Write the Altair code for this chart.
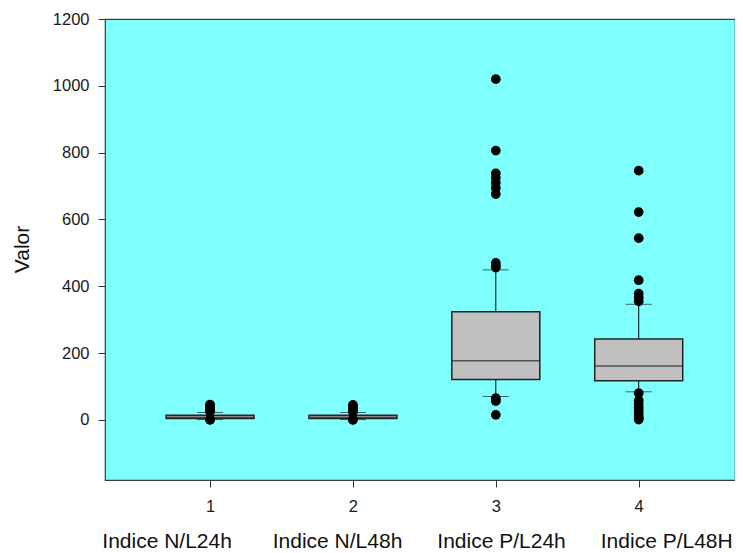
import altair as alt
import pandas as pd

# ---- data ----
groups = [1, 2, 3, 4]
categories = ["Indice N/L24h", "Indice N/L48h", "Indice P/L24h", "Indice P/L48H"]
whisk_lo = [1, 1, 70, 84]
q1 = [4, 4, 121, 117]
median = [8, 8, 177, 161]
q3 = [14, 14, 324, 242]
whisk_hi = [22, 22, 449, 346]
outliers = [
    [25, 28, 31, 34, 38, 42, 46, 0, 1],
    [24, 27, 30, 33, 37, 41, 45, 0, 1],
    [1020, 806, 738, 724, 709, 694, 676, 470, 462, 456, 65, 60, 56, 15],
    [746, 622, 544, 418, 378, 366, 355, 80, 58, 48, 38, 28, 18, 10, 4, 1],
]
y_ticks = [0, 200, 400, 600, 800, 1000, 1200]

box_df = pd.DataFrame({
    "grupo": groups, "lo": whisk_lo, "q1": q1, "med": median, "q3": q3, "hi": whisk_hi,
})
out_df = pd.DataFrame(
    [{"grupo": g, "valor": v} for g, vals in zip(groups, outliers) for v in vals]
)

FONT = "Liberation Sans, Arial, sans-serif"
NB = "\u00a0"
x_title = (categories[0] + NB * 7 + categories[1] + NB * 6 + categories[2] + NB * 6 + categories[3])

PX_PER_UNIT = 145.2
WIDTH = 630
x_scale = alt.Scale(domain=[0.3, 0.3 + WIDTH / PX_PER_UNIT], nice=False, zero=False)
y_scale = alt.Scale(domain=[-180, 1200], nice=False, zero=False)

x_axis = alt.Axis(
    values=groups, format="d", grid=False, domain=False,
    tickSize=7, tickColor="#333333", tickWidth=1,
    labelFont=FONT, labelFontSize=16.5, labelColor="#1a1a1a", labelPadding=11,
    title=x_title, titleFont=FONT, titleFontSize=21, titleFontWeight="normal",
    titleColor="#111111", titleX=312, titleY=67, titleAlign="center",
    titleBaseline="alphabetic", titleAnchor="middle",
)
y_axis = alt.Axis(
    values=y_ticks, format="d", grid=False, domain=False,
    tickSize=7, tickColor="#333333", tickWidth=1,
    labelFont=FONT, labelFontSize=16.5, labelColor="#1a1a1a", labelPadding=9,
    title="Valor", titleFont=FONT, titleFontSize=21, titleFontWeight="normal",
    titleColor="#111111", titleX=-82.5, titleY=230, titleAngle=270,
    titleAlign="center", titleBaseline="middle",
)

base = alt.Chart(box_df)

whisker = base.mark_rule(color="#000000", strokeWidth=1).encode(
    x=alt.X("grupo:Q", scale=x_scale, axis=x_axis),
    y=alt.Y("lo:Q", scale=y_scale, axis=y_axis),
    y2="hi:Q",
)
box = base.mark_bar(size=88, fill="#C0C0C0", stroke="#222222", strokeWidth=1.5).encode(
    x=alt.X("grupo:Q", scale=x_scale), y=alt.Y("q1:Q", scale=y_scale), y2="q3:Q"
)
med = base.mark_tick(orient="horizontal", size=88, thickness=1.5, color="#222222").encode(
    x=alt.X("grupo:Q", scale=x_scale), y=alt.Y("med:Q", scale=y_scale)
)
cap_hi = base.mark_tick(orient="horizontal", size=26, thickness=1, color="#222222").encode(
    x=alt.X("grupo:Q", scale=x_scale), y=alt.Y("hi:Q", scale=y_scale)
)
cap_lo = base.mark_tick(orient="horizontal", size=26, thickness=1, color="#222222").encode(
    x=alt.X("grupo:Q", scale=x_scale), y=alt.Y("lo:Q", scale=y_scale)
)
pts = alt.Chart(out_df).mark_circle(size=95, color="#000000", opacity=1).encode(
    x=alt.X("grupo:Q", scale=x_scale), y=alt.Y("valor:Q", scale=y_scale)
)

chart = (
    alt.layer(whisker, box, med, cap_hi, cap_lo, pts)
    .properties(
        width=WIDTH, height=461,
        autosize=alt.AutoSizeParams(type="none"),
        padding={"left": 97, "top": 11, "right": 0, "bottom": 71},
        background="#ffffff",
    )
    .configure_view(fill="#80FFFF", stroke="#3c3c3c", strokeWidth=1.2)
)

chart.save("out.html", embed_options={"renderer": "svg", "actions": False})
